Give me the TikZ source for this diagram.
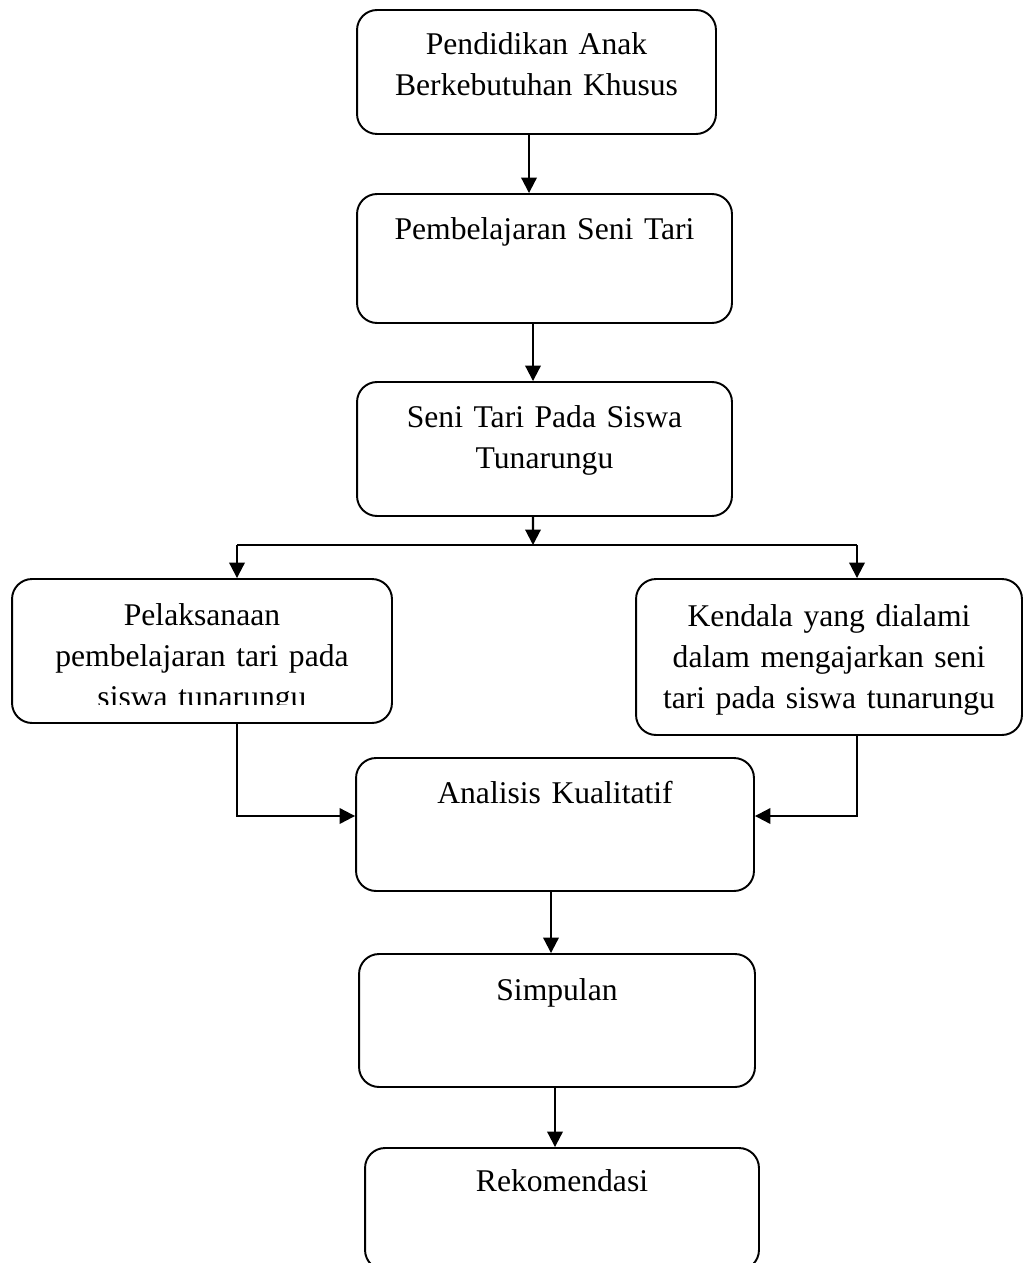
\documentclass[tikz,border=0pt]{standalone}
\usepackage{fontspec}
\setmainfont{Liberation Serif}
\usetikzlibrary{arrows.meta,positioning}

\tikzset{
	box/.style={draw, line width=1.1pt, rounded corners=0.4cm, inner sep=0pt},
	txt/.style={anchor=base, align=center, inner sep=0pt, text width=7.4cm, font=\fontsize{18pt}{23.5pt}\selectfont},
}

\begin{document}
\begin{tikzpicture}[x=0.02cm, y=-0.02cm, >={Triangle[length=0.31cm,width=0.31cm]}, line width=1.2pt]
%	\draw [help lines, step=50] (0,0) grid (1024,1263);
	\useasboundingbox (0,0) rectangle (1024,1263);
	% boxes
	\node [box, minimum width=7.18cm, minimum height=2.48cm] (pak) at (536.5,72) {};
	\node [box, minimum width=7.5cm, minimum height=2.58cm] (seni) at (544.5,258.5) {};
	\node [box, minimum width=7.5cm, minimum height=2.68cm] (sts) at (544.5,449) {};
	\node [box, minimum width=7.6cm, minimum height=2.88cm] (pel) at (202,651) {};
	\node [box, minimum width=7.72cm, minimum height=3.12cm] (ken) at (829,657) {};
	\node [box, minimum width=7.96cm, minimum height=2.66cm] (ana) at (555,824.5) {};
	\node [box, minimum width=7.92cm, minimum height=2.66cm] (simp) at (557,1020.5) {};
	\node [box, minimum width=7.88cm, minimum height=2.44cm] (rek) at (562,1209) {};
	% texts
	\node [txt] (pak-t) at ([yshift=-0.9cm]pak.north) {Pendidikan Anak\\Berkebutuhan Khusus};
	\node [txt] (seni-t) at ([yshift=-0.92cm]seni.north) {Pembelajaran Seni Tari};
	\node [txt] (sts-t) at ([yshift=-0.92cm]sts.north) {Seni Tari Pada Siswa\\Tunarungu};
	\begin{scope}
		\clip (pel.north west) rectangle ([yshift=0.38cm]pel.south east);
		\node [txt] (pel-t) at ([yshift=-0.94cm]pel.north) {Pelaksanaan\\pembelajaran tari pada\\siswa tunarungu};
	\end{scope}
	\node [txt] (ken-t) at ([yshift=-0.96cm]ken.north) {Kendala yang dialami\\dalam mengajarkan seni\\tari pada siswa tunarungu};
	\node [txt] (ana-t) at ([yshift=-0.92cm]ana.north) {Analisis Kualitatif};
	\node [txt] (simp-t) at ([yshift=-0.94cm]simp.north) {Simpulan};
	\node [txt] (rek-t) at ([yshift=-0.88cm]rek.north) {Rekomendasi};
	% connectors
	\coordinate (split) at (533,545);
	\coordinate (lft) at (237,545);
	\coordinate (rgt) at (857,545);
	\draw [->] ([xshift=-0.15cm]pak.south) -- ([xshift=-0.15cm]pak.south |- seni.north);
	\draw [->] ([xshift=-0.23cm]seni.south) -- ([xshift=-0.23cm]seni.south |- sts.north);
	\draw [->] ([xshift=-0.23cm]sts.south) -- (split);
	\draw (lft) -- (rgt);
	\draw [->] (lft) -- (lft |- pel.north);
	\draw [->] (rgt) -- (rgt |- ken.north);
	\draw [->] (lft |- pel.south) |- ([yshift=0.17cm]ana.west);
	\draw [->] (rgt |- ken.south) |- ([yshift=0.17cm]ana.east);
	\draw [->] ([xshift=-0.08cm]ana.south) -- ([xshift=-0.08cm]ana.south |- simp.north);
	\draw [->] ([xshift=-0.04cm]simp.south) -- ([xshift=-0.04cm]simp.south |- rek.north);
\end{tikzpicture}
\end{document}
